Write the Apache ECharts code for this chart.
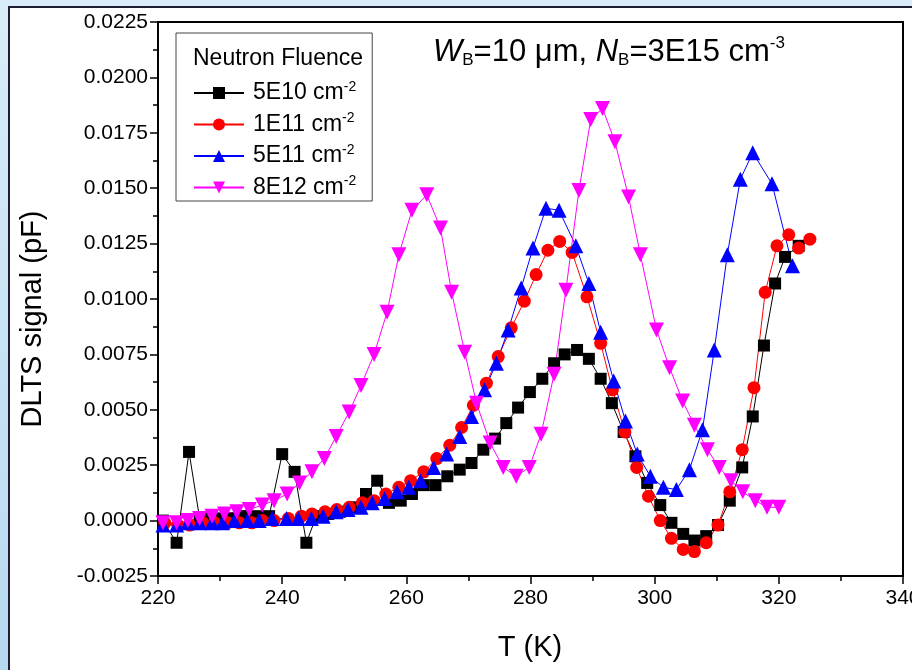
<!DOCTYPE html>
<html>
<head>
<meta charset="utf-8">
<script src="https://cdn.jsdelivr.net/npm/echarts@6/dist/echarts.min.js"></script>
<style>
html,body{margin:0;padding:0;width:912px;height:670px;overflow:hidden;background:linear-gradient(180deg,#d9ecf9,#b7d8f1);}
#panel{position:absolute;left:8px;top:6px;width:904px;height:664px;background:#fff;border-left:2px solid #1d1f2e;border-top:2px solid #1d1f2e;box-sizing:border-box;}
#chart{position:absolute;left:0;top:0;width:912px;height:670px;}
</style>
</head>
<body>
<div id="panel"></div>
<div id="chart"></div>
<script>
// series names
const names = ['5E10 cm^-2', '1E11 cm^-2', '5E11 cm^-2', '8E12 cm^-2'];

// 5E10 cm-2 (black squares)
const tBlack = [220.8,223.0,225.0,226.7,228.3,230.3,232.2,234.1,236.0,237.9,
  240.0,242.0,243.9,245.5,247.4,249.3,251.4,253.5,255.3,257.2,
  259.1,260.9,262.8,264.7,266.6,268.6,270.5,272.4,274.3,276.1,
  278.0,279.9,281.9,283.8,285.5,287.5,289.4,291.3,293.1,295.0,
  296.9,298.8,300.9,302.7,304.6,306.4,308.3,310.2,312.1,314.1,
  315.8,317.6,319.4,321.0,323.2];
const vBlack = [0.0000,-0.0010,0.0031,0.0001,0.0001,0.0001,0.0001,0.0002,0.0002,0.0002,
  0.0030,0.0022,-0.0010,0.0002,0.0003,0.0004,0.0006,0.0012,0.0018,0.0008,
  0.0009,0.0012,0.0016,0.0016,0.0020,0.0023,0.0026,0.0032,0.0037,0.0044,
  0.0051,0.0058,0.0064,0.0071,0.0075,0.0077,0.0073,0.0064,0.0053,0.0040,
  0.0029,0.0017,0.0007,-0.0001,-0.0006,-0.0009,-0.0007,-0.0002,0.0009,0.0024,
  0.0047,0.0079,0.0107,0.0119,0.0124];

// 1E11 cm-2 (red circles)
const tRed = [221.1,223.2,225.1,227.2,229.1,231.2,233.1,235.1,236.8,238.7,
  241.0,243.1,244.8,246.9,248.8,250.8,252.9,254.8,256.7,258.8,
  260.7,262.8,264.9,267.0,268.9,270.8,272.9,274.8,276.9,279.0,
  280.9,282.8,284.7,286.7,289.1,291.3,293.2,295.2,297.1,299.0,
  300.9,302.7,304.6,306.4,308.3,310.2,312.1,314.1,316.0,317.8,
  319.7,321.6,323.2,325.0];
const vRed = [-0.0001,-0.0002,-0.0002,-0.0001,-0.0001,-0.0001,-0.0001,-0.0001,0.0000,0.0000,
  0.0001,0.0002,0.0003,0.0004,0.0005,0.0006,0.0008,0.0009,0.0012,0.0015,
  0.0018,0.0022,0.0028,0.0034,0.0042,0.0052,0.0062,0.0074,0.0087,0.0099,
  0.0111,0.0122,0.0126,0.0121,0.0101,0.0080,0.0059,0.0040,0.0024,0.0011,
  0.0000,-0.0008,-0.0013,-0.0014,-0.0010,-0.0002,0.0013,0.0032,0.0060,0.0103,
  0.0124,0.0129,0.0123,0.0127];

// 5E11 cm-2 (blue triangles)
const tBlue = [220.8,223.0,224.8,226.7,228.7,230.4,232.3,234.4,236.3,238.4,
  240.7,242.6,244.7,246.6,248.7,250.6,252.7,254.5,256.5,258.5,
  260.4,262.3,264.4,266.5,268.6,270.5,272.6,274.5,276.4,278.5,
  280.4,282.5,284.6,287.3,289.4,291.3,293.4,295.3,297.2,299.3,
  301.4,303.5,305.6,307.7,309.6,311.7,313.8,315.8,318.9,322.2];
const vBlue = [-0.0002,-0.0002,-0.0001,-0.0001,-0.0001,-0.0001,0.0000,0.0000,0.0000,0.0001,
  0.0001,0.0001,0.0001,0.0002,0.0004,0.0005,0.0006,0.0008,0.0010,0.0013,
  0.0015,0.0018,0.0024,0.0030,0.0038,0.0047,0.0059,0.0071,0.0086,0.0105,
  0.0123,0.0141,0.0140,0.0124,0.0107,0.0085,0.0063,0.0045,0.0030,0.0020,
  0.0015,0.0014,0.0023,0.0041,0.0077,0.0120,0.0154,0.0166,0.0152,0.0115];

// 8E12 cm-2 (magenta down triangles)
const tMag = [220.8,223.0,224.8,226.7,228.7,230.7,232.7,234.7,236.8,238.7,
  240.8,242.8,244.8,246.8,248.7,250.8,252.7,254.8,256.9,258.8,
  260.9,263.3,265.5,267.3,269.4,271.3,273.5,275.6,277.7,279.8,
  281.7,283.8,285.7,287.8,289.7,291.6,293.6,295.8,297.7,300.3,
  302.4,304.5,306.4,308.5,310.4,312.3,314.2,316.2,318.1,320.0];
const vMag = [-0.0001,-0.0001,0.0000,0.0001,0.0002,0.0003,0.0004,0.0005,0.0007,0.0009,
  0.0012,0.0017,0.0022,0.0028,0.0038,0.0049,0.0061,0.0075,0.0094,0.0120,
  0.0140,0.0147,0.0132,0.0103,0.0076,0.0053,0.0035,0.0024,0.0020,0.0024,
  0.0039,0.0066,0.0104,0.0149,0.0181,0.0186,0.0171,0.0146,0.0120,0.0086,
  0.0069,0.0054,0.0043,0.0032,0.0024,0.0018,0.0013,0.0009,0.0006,0.0006];

const xTicks = [220, 240, 260, 280, 300, 320, 340];

const pairs = (t, v) => t.map((x, i) => [x, v[i]]);
const font = '"Liberation Sans", Arial, sans-serif';

const chart = echarts.init(document.getElementById('chart'));

function mkSeries(name, t, v, color, symbol, size, rotate){
    return {
        name: name,
        type: 'line',
        data: pairs(t, v),
        symbol: symbol,
        symbolSize: size,
        symbolRotate: rotate || 0,
        showAllSymbol: true,
        lineStyle: {color: color, width: 1},
        itemStyle: {color: color},
        emphasis: {disabled: true}
    };
}

chart.setOption({
    animation: false,
    textStyle: {fontFamily: font},
    grid: {
        left: 158, right: 9, top: 22, bottom: 94,
        outerBoundsMode: 'none',
        containLabel: false,
        show: true, borderColor: '#000', borderWidth: 2
    },
    xAxis: {
        type: 'value',
        min: xTicks[0], max: xTicks[xTicks.length - 1], interval: 20,
        axisLine: {onZero: false, lineStyle: {color: '#000', width: 2}},
        axisTick: {inside: false, length: 8, lineStyle: {color: '#000', width: 1.5}},
        minorTick: {show: true, splitNumber: 2, length: 5, lineStyle: {color: '#000', width: 1.5}},
        splitLine: {show: false},
        axisLabel: {color: '#000', fontSize: 21, margin: 12, fontFamily: font, hideOverlap: false}
    },
    yAxis: {
        type: 'value',
        min: -0.0025, max: 0.0225, interval: 0.0025,
        axisLine: {show: true, onZero: false, lineStyle: {color: '#000', width: 2}},
        axisTick: {show: true, inside: false, length: 8, lineStyle: {color: '#000', width: 1.5}},
        minorTick: {show: true, splitNumber: 2, length: 5, lineStyle: {color: '#000', width: 1.5}},
        splitLine: {show: false},
        axisLabel: {
            color: '#000', fontSize: 21, margin: 10, fontFamily: font,
            formatter: v => (Math.abs(v) < 1e-9 ? 0 : v).toFixed(4)
        }
    },
    legend: {
        orient: 'vertical',
        left: 176, top: 33,
        padding: [47, 16, 2, 17],
        borderColor: '#444', borderWidth: 1,
        itemWidth: 50, itemHeight: 15, itemGap: 7,
        data: names,
        formatter: n => {
            const p = n.split('^');
            return '{n|' + p[0] + '}{sup|' + p[1] + '}';
        },
        textStyle: {
            color: '#000', fontSize: 23, fontFamily: font, padding: [0, 0, 0, 4],
            rich: {
                n: {fontSize: 23, lineHeight: 26, fontFamily: font, color: '#000'},
                sup: {fontSize: 14, lineHeight: 14, verticalAlign: 'top', fontFamily: font, color: '#000'}
            }
        }
    },
    graphic: [{
        type: 'text', left: 193, top: 47,
        style: {text: 'Neutron Fluence', font: '23px ' + font, fill: '#000'}
    }, {
        type: 'text', left: 433, top: 35,
        style: {
            text: '{i|W}{sub|B}{n|=10 \u03bcm, }{i|N}{sub|B}{n|=3E15 cm}{sup|-3}',
            rich: {
                i: {fontSize: 31, fontStyle: 'italic', lineHeight: 34, fontFamily: font, fill: '#000'},
                n: {fontSize: 31, lineHeight: 34, fontFamily: font, fill: '#000'},
                sub: {fontSize: 17, lineHeight: 14, verticalAlign: 'bottom', fontFamily: font, fill: '#000'},
                sup: {fontSize: 17, lineHeight: 14, verticalAlign: 'top', fontFamily: font, fill: '#000'}
            }
        }
    }, {
        type: 'text', x: 33, y: 319, rotation: Math.PI / 2,
        style: {text: 'DLTS signal (pF)', font: '29px ' + font, fill: '#000', align: 'center', verticalAlign: 'middle'}
    }, {
        type: 'text', x: 530, y: 648,
        style: {text: 'T (K)', font: '29px ' + font, fill: '#000', align: 'center', verticalAlign: 'middle'}
    }],
    series: [
        mkSeries(names[0], tBlack, vBlack, '#000000', 'rect', 12),
        mkSeries(names[1], tRed, vRed, '#ff0000', 'circle', 13),
        mkSeries(names[2], tBlue, vBlue, '#0000ff', 'triangle', 15),
        mkSeries(names[3], tMag, vMag, '#ff00ff', 'triangle', 15, 180)
    ]
});
</script>
</body>
</html>
